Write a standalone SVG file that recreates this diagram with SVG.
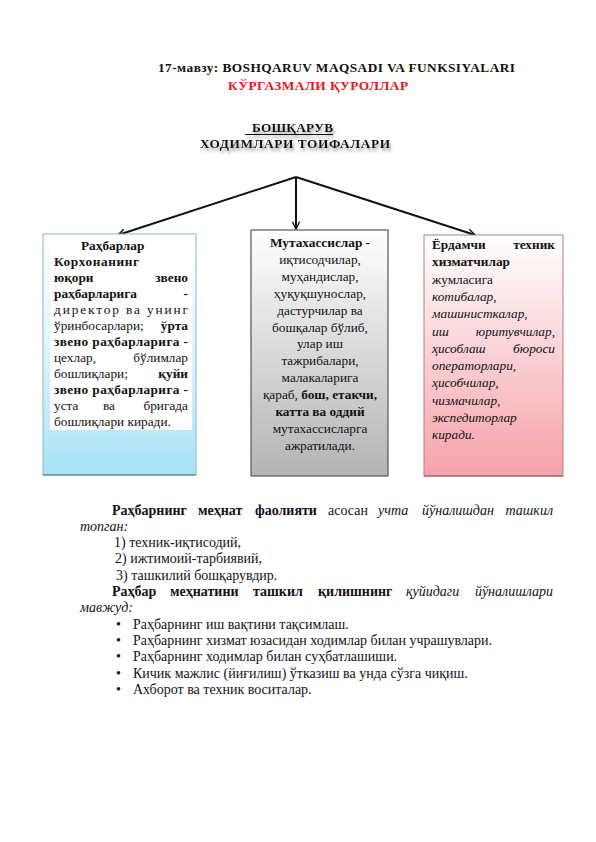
<svg xmlns="http://www.w3.org/2000/svg" width="596" height="842" viewBox="0 0 596 842" font-family="'Liberation Serif', 'Times New Roman', serif">
<style>
text{font-family:'Liberation Serif','Times New Roman',serif;fill:#111}
.b{font-weight:bold}
.i{font-style:italic}
.bx{font-size:13.3px}
.bt{font-size:14px}
.h{font-size:13.3px;font-weight:bold}
.e{text-anchor:end}
.m{text-anchor:middle}
.conn{stroke:#111;stroke-width:2;fill:none}
</style>
<defs>
<linearGradient id="gL" x1="0" y1="0" x2="0" y2="1"><stop offset="0" stop-color="#ffffff"/><stop offset="0.55" stop-color="#d8f3fd"/><stop offset="1" stop-color="#a6e2f8"/></linearGradient>
<linearGradient id="gM" x1="0" y1="0" x2="0" y2="1"><stop offset="0" stop-color="#ffffff"/><stop offset="1" stop-color="#b4b4b4"/></linearGradient>
<linearGradient id="gR" x1="0" y1="0" x2="0" y2="1"><stop offset="0" stop-color="#ffffff"/><stop offset="1" stop-color="#f6a2aa"/></linearGradient>
<filter id="sh" x="-10%" y="-30%" width="120%" height="180%"><feDropShadow dx="1.5" dy="3" stdDeviation="1.4" flood-color="#777" flood-opacity="0.7"/></filter>
<marker id="ar" viewBox="0 0 10 10" refX="9" refY="5" markerWidth="9" markerHeight="9" markerUnits="userSpaceOnUse" orient="auto"><path d="M1,1 L9,5 L1,9" fill="none" stroke="#111" stroke-width="1.6"/></marker>
</defs>

<g id="title">
<text class="h" x="158" y="72" textLength="357">17-мавзу: BOSHQARUV MAQSADI VA FUNKSIYALARI</text>
<text class="h" x="228" y="90" textLength="180" style="fill:#e8141e">КЎРГАЗМАЛИ ҚУРОЛЛАР</text>
</g>

<g id="root" filter="url(#sh)">
<text class="h" x="252" y="132" textLength="81">БОШҚАРУВ</text>
<line x1="245" y1="134.5" x2="333" y2="134.5" stroke="#111" stroke-width="1"/>
<text class="h" x="200" y="148" textLength="190">ХОДИМЛАРИ ТОИФАЛАРИ</text>
</g>

<g id="connectors">
<line class="conn" x1="296" y1="177" x2="118" y2="235" marker-end="url(#ar)"/>
<line class="conn" x1="296" y1="177" x2="296" y2="229" marker-end="url(#ar)"/>
<line class="conn" x1="296" y1="177" x2="475" y2="235" marker-end="url(#ar)"/>
</g>

<g id="leaders">
<rect x="43" y="234" width="153" height="241" fill="url(#gL)" stroke="#8fb8bc" stroke-width="1"/>
<line x1="43" y1="475" x2="196" y2="475" stroke="#4a6e80" stroke-width="1.2"/>
<rect x="50" y="238" width="142" height="192" fill="#ffffff"/>
<g class="bx">
<text class="b" x="81" y="250">Раҳбарлар</text>
<text class="b" x="54" y="266" letter-spacing="0.6">Корхонанинг</text>
<text class="b" x="54" y="282">юқори</text><text class="b e" x="188" y="282">звено</text>
<text class="b" x="54" y="298">раҳбарларига</text><text class="b e" x="188" y="298">-</text>
<text x="54" y="314" textLength="134">директор ва унинг</text>
<text x="54" y="330">ўринбосарлари;</text><text class="b e" x="188" y="330">ўрта</text>
<text class="b" x="54" y="346" textLength="134">звено раҳбарларига -</text>
<text x="54" y="362">цехлар,</text><text class="e" x="188" y="362">бўлимлар</text>
<text x="54" y="378">бошлиқлари;</text><text class="b e" x="188" y="378">қуйи</text>
<text class="b" x="54" y="394" textLength="134">звено раҳбарларига -</text>
<text x="54" y="410">уста</text><text x="103" y="410">ва</text><text class="e" x="188" y="410">бригада</text>
<text x="54" y="426">бошлиқлари киради.</text>
</g>
</g>

<g id="specialists">
<rect x="251" y="230" width="137" height="246" fill="url(#gM)" stroke="#555" stroke-width="1.2"/>
<g class="bx m">
<text class="b" x="320" y="247">Мутахассислар -</text>
<text x="320" y="264">иқтисодчилар,</text>
<text x="320" y="281">муҳандислар,</text>
<text x="320" y="298">ҳуқуқшунослар,</text>
<text x="320" y="315">дастурчилар ва</text>
<text x="320" y="332">бошқалар бўлиб,</text>
<text x="320" y="348">улар иш</text>
<text x="320" y="365">тажрибалари,</text>
<text x="320" y="382">малакаларига</text>
<text x="320" y="399">қараб, <tspan class="b">бош, етакчи,</tspan></text>
<text class="b" x="320" y="416">катта ва оддий</text>
<text x="320" y="433">мутахассисларга</text>
<text x="320" y="450">ажратилади.</text>
</g>
</g>

<g id="support">
<rect x="424" y="235" width="139" height="241" fill="url(#gR)" stroke="#b87a84" stroke-width="1"/>
<line x1="424" y1="476" x2="563" y2="476" stroke="#a05060" stroke-width="1"/>
<g class="bx">
<text class="b" x="432" y="249">Ёрдамчи</text><text class="b e" x="555" y="249">техник</text>
<text class="b" x="432" y="266">хизматчилар</text>
<text x="432" y="284">жумласига</text>
<text class="i" x="432" y="301">котибалар,</text>
<text class="i" x="432" y="318">машинисткалар,</text>
<text class="i" x="432" y="336">иш</text><text class="i e" x="555" y="336">юритувчилар,</text>
<text class="i" x="432" y="353">ҳисоблаш</text><text class="i e" x="555" y="353">бюроси</text>
<text class="i" x="432" y="370">операторлари,</text>
<text class="i" x="432" y="387">ҳисобчилар,</text>
<text class="i" x="432" y="405">чизмачилар,</text>
<text class="i" x="432" y="422">экспедиторлар</text>
<text class="i" x="432" y="439">киради.</text>
</g>
</g>

<g id="body" class="bt">
<text class="b" x="112" y="515">Раҳбарнинг</text>
<text class="b" x="198" y="515">меҳнат</text>
<text class="b" x="255" y="515">фаолияти</text>
<text x="328" y="515">асосан</text>
<text class="i" x="378" y="515">учта</text>
<text class="i" x="422" y="515">йўналишдан</text>
<text class="i e" x="553" y="515">ташкил</text>
<text class="i" x="80" y="531">топган:</text>
<text x="114" y="547">1) техник-иқтисодий,</text>
<text x="115" y="563">2) ижтимоий-тарбиявий,</text>
<text x="116" y="580">3) ташкилий бошқарувдир.</text>
<text class="b" x="112" y="596">Раҳбар</text>
<text class="b" x="170" y="596">меҳнатини</text>
<text class="b" x="253" y="596">ташкил</text>
<text class="b" x="318" y="596">қилишнинг</text>
<text class="i" x="406" y="596">қуйидаги</text>
<text class="i e" x="553" y="596">йўналишлари</text>
<text class="i" x="80" y="612">мавжуд:</text>
<text x="116" y="629">•</text><text x="133" y="629">Раҳбарнинг иш вақтини тақсимлаш.</text>
<text x="116" y="645">•</text><text x="133" y="645">Раҳбарнинг хизмат юзасидан ходимлар билан учрашувлари.</text>
<text x="116" y="661">•</text><text x="133" y="661">Раҳбарнинг ходимлар билан суҳбатлашиши.</text>
<text x="116" y="678">•</text><text x="133" y="678">Кичик мажлис (йиғилиш) ўтказиш ва унда сўзга чиқиш.</text>
<text x="116" y="694">•</text><text x="133" y="694">Ахборот ва техник воситалар.</text>
</g>
</svg>
